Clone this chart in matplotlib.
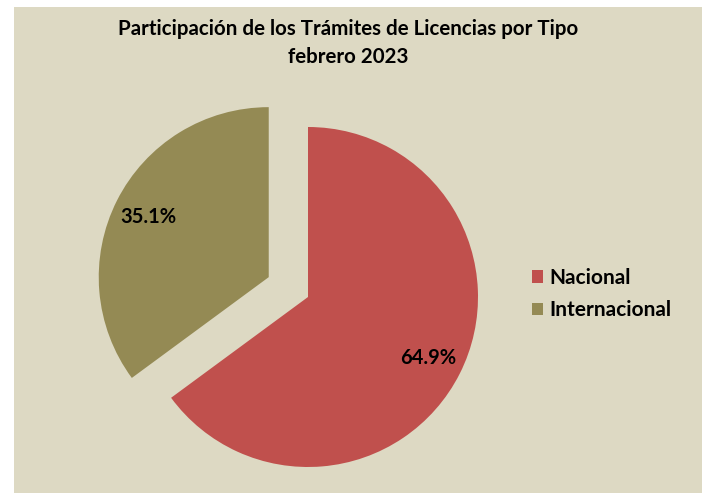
import matplotlib.pyplot as plt
from matplotlib.patches import Rectangle, Patch

# Licencias por tipo, febrero 2023
tipos = ['Nacional', 'Internacional']
porcentajes = [64.9, 35.1]
colores = ['#C0504D', '#948A54']
fondo = '#DDD9C3'

plt.rcParams['font.family'] = ['Lato', 'DejaVu Sans']

fig = plt.figure(figsize=(7.07, 4.93), dpi=100)
fig.patch.set_facecolor('white')

# ejes en coordenadas de pixel
ax = fig.add_axes([0, 0, 1, 1])

ax.add_patch(Rectangle((14, 0), 688, 486, facecolor=fondo, edgecolor='none', zorder=0))

wedges, textos, pct = ax.pie(porcentajes,
                             colors=colores,
                             startangle=90,
                             counterclock=False,
                             explode=(0, 44),
                             center=(308, 196),
                             radius=170,
                             autopct='%1.1f%%',
                             pctdistance=0.79,
                             frame=True,
                             wedgeprops={'linewidth': 0},
                             textprops={'fontsize': 14.5, 'fontweight': 'bold', 'color': 'black'})
ax.set_xlim(0, 707)
ax.set_ylim(0, 493)
ax.set_aspect('equal')
ax.axis('off')
for w in wedges:
    w.set_zorder(2)

ax.text(348, 450, 'Participación de los Trámites de Licencias por Tipo\nfebrero 2023',
        ha='center', va='center', fontsize=14.8, fontweight='bold', linespacing=1.45)

handles = [Patch(facecolor=c, edgecolor='none') for c in colores]
leg = ax.legend(handles, tipos, loc='center left', bbox_to_anchor=(513 / 707, 199 / 493),
                frameon=False, prop={'size': 15, 'weight': 'bold'},
                handlelength=0.55, handleheight=0.55, handletextpad=0.3, labelspacing=0.6)

fig.savefig('out.png', dpi=100, facecolor='white')
